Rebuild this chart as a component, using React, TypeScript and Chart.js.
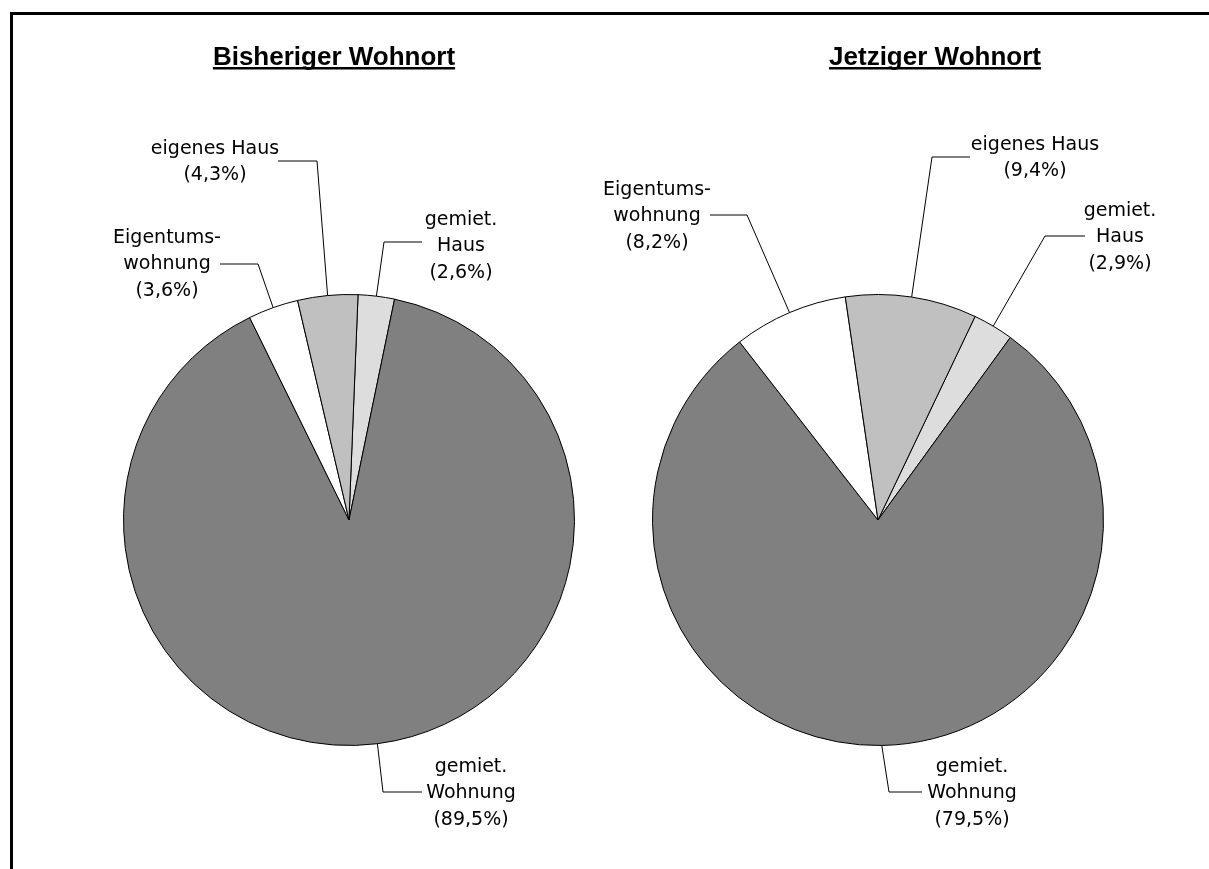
import React, { useEffect, useRef } from "react";
import { Chart, registerables } from "chart.js";

Chart.register(...registerables);

// ---- data ----
const categories = ["gemiet. Haus", "gemiet. Wohnung", "Eigentumswohnung", "eigenes Haus"];
const categoryLines = [["gemiet.", "Haus"], ["gemiet.", "Wohnung"], ["Eigentums-", "wohnung"], ["eigenes Haus"]];
const bisherigValues = [2.6, 89.5, 3.6, 4.3];
const jetzigValues = [2.9, 79.5, 8.2, 9.4];
const titles = ["Bisheriger Wohnort", "Jetziger Wohnort"];
const sliceColors = ["#DDDDDD", "#808080", "#FFFFFF", "#C0C0C0"];

// ---- layout (offsets relative to pie centre) ----
type LabelLayout = { tx: number; ty: number; ex: number; ey: number; hx: number };
const leftLabels: LabelLayout[] = [
  { tx: 112, ty: -300, ex: 35, ey: -278, hx: 73 },
  { tx: 122, ty: 247, ex: 34, ey: 272, hx: 73 },
  { tx: -182, ty: -282, ex: -91, ey: -256, hx: -129 },
  { tx: -134, ty: -371, ex: -32, ey: -359, hx: -71 },
];
const rightLabels: LabelLayout[] = [
  { tx: 242, ty: -309, ex: 167, ey: -284, hx: 207 },
  { tx: 94, ty: 247, ex: 11, ey: 272, hx: 44 },
  { tx: -221, ty: -330, ex: -131, ey: -305, hx: -168 },
  { tx: 157, ty: -375, ex: 54, ey: -363, hx: 92 },
];

const W = 1209;
const H = 869;

const fmtPct = (v: number) => `(${v.toFixed(1).replace(".", ",")}%)`;

const labelsPlugin = {
  id: "pieLabels",
  afterDraw(chart: any, _args: any, opts: any) {
    const ctx: CanvasRenderingContext2D = chart.ctx;
    const meta = chart.getDatasetMeta(0);
    const values: number[] = chart.data.datasets[0].data;
    ctx.save();
    ctx.strokeStyle = "#000";
    ctx.lineWidth = 1;
    ctx.fillStyle = "#000";
    ctx.font = "19px 'DejaVu Sans', sans-serif";
    ctx.textAlign = "center";
    ctx.textBaseline = "middle";
    meta.data.forEach((arc: any, i: number) => {
      const p = arc.getProps(["x", "y", "startAngle", "endAngle", "outerRadius"], true);
      const mid = (p.startAngle + p.endAngle) / 2;
      const px = p.x + Math.cos(mid) * p.outerRadius;
      const py = p.y + Math.sin(mid) * p.outerRadius;
      const L: LabelLayout = opts.labels[i];
      ctx.beginPath();
      ctx.moveTo(px, py);
      ctx.lineTo(p.x + L.ex, p.y + L.ey);
      ctx.lineTo(p.x + L.hx, p.y + L.ey);
      ctx.stroke();
      const lines = [...categoryLines[i], fmtPct(values[i])];
      lines.forEach((t, k) => {
        ctx.fillText(t, p.x + L.tx, p.y + L.ty + k * 26.5);
      });
    });
    // title
    ctx.font = "bold 26px 'Liberation Sans', Arial, sans-serif";
    ctx.textBaseline = "alphabetic";
    ctx.textAlign = "center";
    const tw = ctx.measureText(opts.title).width;
    ctx.fillText(opts.title, opts.titleX, 65);
    ctx.fillRect(opts.titleX - tw / 2, 67, tw, 2.5);
    ctx.restore();
  },
};

type Panel = {
  left: number;
  width: number;
  padding: { left: number; right: number; top: number; bottom: number };
  rotation: number;
  values: number[];
  labels: LabelLayout[];
  title: string;
  titleX: number;
};

const panels: Panel[] = [
  {
    left: 0,
    width: 604,
    padding: { left: 123, right: 29, top: 294, bottom: 123 },
    rotation: 2.3,
    values: bisherigValues,
    labels: leftLabels,
    title: titles[0],
    titleX: 334,
  },
  {
    left: 604,
    width: 605,
    padding: { left: 48, right: 105, top: 294, bottom: 123 },
    rotation: 25.5,
    values: jetzigValues,
    labels: rightLabels,
    title: titles[1],
    titleX: 331,
  },
];

function PiePanel({ panel }: { panel: Panel }) {
  const ref = useRef<HTMLCanvasElement | null>(null);
  useEffect(() => {
    if (!ref.current) return;
    const chart = new Chart(ref.current, {
      type: "pie",
      data: {
        labels: categories,
        datasets: [
          {
            data: panel.values,
            backgroundColor: sliceColors,
            borderColor: "#000",
            borderWidth: 1,
            hoverOffset: 0,
          },
        ],
      },
      options: {
        responsive: false,
        animation: false,
        devicePixelRatio: 1,
        rotation: panel.rotation,
        layout: { padding: panel.padding },
        events: [],
        plugins: {
          legend: { display: false },
          tooltip: { enabled: false },
          title: { display: false },
          // @ts-ignore
          pieLabels: { labels: panel.labels, title: panel.title, titleX: panel.titleX },
        },
      } as any,
      plugins: [labelsPlugin as any],
    });
    return () => chart.destroy();
  }, [panel]);
  return (
    <canvas
      ref={ref}
      width={panel.width}
      height={H}
      style={{ position: "absolute", left: panel.left, top: 0, width: panel.width, height: H }}
    />
  );
}

export default function App() {
  return (
    <div
      style={{
        position: "fixed",
        left: 0,
        top: 0,
        width: W,
        height: H,
        overflow: "hidden",
        background: "#fff",
      }}
    >
      <div
        style={{
          position: "absolute",
          left: 10,
          top: 12,
          width: W + 100,
          height: H + 100,
          borderLeft: "3px solid #000",
          borderTop: "3px solid #000",
        }}
      />
      {panels.map((p, i) => (
        <PiePanel key={i} panel={p} />
      ))}
    </div>
  );
}
